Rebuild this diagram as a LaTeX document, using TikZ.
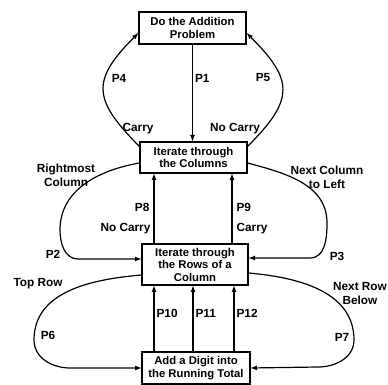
\documentclass[tikz,border=0pt]{standalone}
\usepackage{fontspec}
\newfontfamily\diagfont{Liberation Sans}
\newcommand\boxfont{\diagfont\bfseries\fontsize{11.3}{12.5}\selectfont}
\newcommand\labfont{\diagfont\bfseries\fontsize{11.8}{14}\selectfont}
\usetikzlibrary{arrows}

\tikzset{
  box/.style={draw, line width=1.2pt, align=center, inner sep=1pt, font=\boxfont},
  lab/.style={font=\labfont, inner sep=1pt, align=center},
  flow/.style={->, >=latex, line width=1.2pt},
}

\begin{document}
\begin{tikzpicture}[x=1pt,y=1pt]
\useasboundingbox (0,0) rectangle (388,385);
\node[box, minimum width=107pt, minimum height=32pt] (add) at (192.5,357) {Do the Addition\\Problem};
\node[box, minimum width=107pt, minimum height=31pt] (cols) at (193.5,227.5) {Iterate through\\the Columns};
\node[box, minimum width=106pt, minimum height=41pt] (rows) at (195,120.5) {Iterate through\\the Rows of a\\Column};
\node[box, minimum width=108pt, minimum height=32pt] (digit) at (196,17) {Add a Digit into\\the Running Total};

% straight connectors
\draw[flow] (add.south) -- (add.south |- cols.north) node[lab, pos=.35, right=1pt] (p1) {P1};
\draw[flow] ([xshift=-41pt]rows.north) -- ([xshift=-41pt]rows.north |- cols.south)
  node[lab, pos=.52, left=3pt] (p8) {P8} node[lab, pos=.21, left=2pt] (nc2) {No Carry};
\draw[flow] ([xshift=37pt]rows.north) -- ([xshift=37pt]rows.north |- cols.south)
  node[lab, pos=.52, right=3pt] (p9) {P9} node[lab, pos=.21, right=3pt] (c2) {Carry};
\draw[flow] ([xshift=-41pt]rows.south |- digit.north) -- ([xshift=-41pt]rows.south) node[lab, pos=.58, right=1pt] (p10) {P10};
\draw[flow] ([xshift=-2pt]rows.south |- digit.north) -- ([xshift=-2pt]rows.south) node[lab, pos=.58, right=1pt] (p11) {P11};
\draw[flow] ([xshift=39pt]rows.south |- digit.north) -- ([xshift=39pt]rows.south) node[lab, pos=.58, right=1pt] (p12) {P12};

% loops
\draw[flow] ([yshift=-5pt]cols.north west) to[out=135,in=225,looseness=1.5] ([yshift=-5pt]add.west);
\draw[flow] ([yshift=-5pt]cols.north east) to[out=45,in=-45,looseness=1.5] ([yshift=-5pt]add.east);
\draw[flow] ([yshift=-5.5pt]cols.west) to[out=190,in=90] (60,155) to[out=270,in=180] (78,126) -- ([yshift=5.5pt]rows.west);
\draw[flow] ([yshift=-5.5pt]cols.east) to[out=-15,in=90] (327,162) to[out=270,in=0] (310,127) -- ([yshift=6.5pt]rows.east);
\draw[flow] ([yshift=-10.5pt]rows.west) to[out=185,in=90] (34,45) to[out=270,in=180] (70,17) -- (digit.west);
\draw[flow] ([yshift=-8.5pt]rows.east) to[out=-5,in=90] (354,45) to[out=270,in=0] (318,18) -- (digit.east);

\node[lab] (p4) at (119,307) {P4};
\node[lab] (p5) at (263,307) {P5};
\node[lab] (c1) at (138,256) {Carry};
\node[lab] (nc1) at (235,256) {No Carry};
\node[lab] (rc) at (66,209.5) {Rightmost\\Column};
\node[lab] (ncl) at (327,207.5) {Next Column\\to Left};
\node[lab] (p2) at (53,131) {P2};
\node[lab] (p3) at (337,129) {P3};
\node[lab] (tr) at (38,101) {Top Row};
\node[lab] (nrb) at (360,91.5) {Next Row\\Below};
\node[lab] (p6) at (48,50) {P6};
\node[lab] (p7) at (342,48) {P7};
\end{tikzpicture}
\end{document}
